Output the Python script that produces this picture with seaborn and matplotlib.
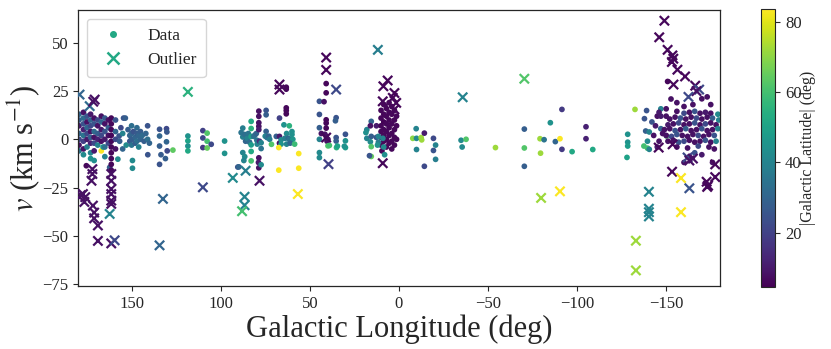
import numpy as np
import pandas as pd
import matplotlib
matplotlib.use("Agg")
import matplotlib.pyplot as plt
from matplotlib.colors import Normalize
from matplotlib.cm import ScalarMappable
from matplotlib.lines import Line2D
import seaborn as sns

# ---------------- data: (longitude deg, velocity km/s, |latitude| deg) ----------------
dots_anticenter_west = [
    (179.5, 13, 30), (179.5, 10, 28), (179.5, 7, 10), (179.5, 3, 30), (179.5, 0, 22), (179.5, -3, 8), (179.5, -6, 35),
    (177, 14, 8), (177, 11, 32), (177, 8, 25), (177, 5, 12), (177, 2, 35), (177, -1, 20), (177, -5, 8), (177, -8, 42),
    (175, 12, 25), (175, 9, 8), (175, 6, 30), (175, 3, 22), (175, 0, 10), (175, -4, 38), (175.4, -13.7, 6),
    (173, 13, 10), (173, 10, 30), (173, 7, 22), (173, 4, 8), (173, 1, 28), (173, -2, 12), (173, -7, 40), (173, -10, 45),
    (171, 11, 8), (171, 8, 25), (171, 4, 32), (171, 1, 8), (171, -2, 22), (171, -6, 10), (171, -11, 44),
    (169, 10, 22), (169, 7, 8), (169, 3, 28), (169, 0, 12), (169, -3, 40), (167, -6, 83),
    (167, 12, 8), (167, 9, 30), (167, 5, 10), (167, 2, 22), (167, -1, 8), (166, -4, 45),
    (165, 11, 26), (165, 8, 8), (165, 4, 25), (165, 0, 10), (165, -4, 33), (165, -9, 40),
    (163, 10, 8), (163, 6, 28), (163, 2, 8), (163, -2, 22), (162.3, -14.6, 28),
    (161.4, 11, 6), (161.4, 8, 6), (161.4, 5, 6), (161.4, 2, 6), (161.4, -1, 6), (161.4, -4, 6),
    (161.4, -7, 6), (161.4, -10, 6), (161.4, -13, 6), (161.4, -16, 7),
    (159, 10, 25), (159, 4, 30), (159, 0, 22), (159, -5, 8), (157.7, -10.3, 42), (157, 1.7, 25),
    (156.7, -1, 28), (154.5, 11, 25), (153.5, 11, 28), (156, 6, 22), (155, 3, 40), (155, -5, 30), (153, -3, 42),
]

dots_outer_west = [
    (152, 5, 28), (151, 2, 30), (151, -1, 25), (150, 7, 33), (150, 3, 30), (150, 0, 28), (150, -3, 35),
    (149.5, -11, 42), (149.5, -15, 42), (149, 4, 25), (148, 1, 30), (148, -2, 28), (147, 6, 32), (147, 3, 27),
    (147, -1, 33), (146, 2, 30), (146, -4, 40), (145, 4, 28), (145, 0, 30), (144, 2, 32), (143, -1, 28),
    (142, 3, 30), (141, 0, 33), (140.9, -8, 25), (140, -2, 30), (141, 7, 25),
    (134.3, 5.2, 25), (134.3, 1.7, 30), (134.3, -3.5, 28), (134.3, -13, 25), (133.5, -8, 27),
    (130.4, 5.5, 22), (130.2, 3.8, 26), (130.4, -1.3, 30), (130, -6, 22), (131, -10, 28), (126.8, -5.6, 64),
    (118.4, 1.7, 45), (118.4, -0.8, 50), (118.4, -3.5, 45), (118.4, -6, 52),
    (110, 4.5, 20), (110, 0.7, 22), (110, -4.3, 18),
    (107.6, 3.2, 62), (107.6, -1, 60), (107.6, -4.5, 65), (105.3, -2.6, 22),
    (97.8, -0.9, 45), (97.8, -7.3, 45), (90.4, -14.4, 25),
]

dots_first_quadrant = [
    (87.6, 5.8, 38), (87.6, 1.2, 38), (87.6, -6.9, 40), (86.5, -9, 42), (87, -11, 40), (88.5, 3.5, 35),
    (86.5, 2.5, 33), (86, -1, 30), (85, 0.5, 40), (84.5, 3, 35), (83.8, -1.5, 32), (89.8, -14.3, 30),
    (82.9, 9.3, 52), (82.9, 5.6, 55), (82.9, 1.5, 50), (82.9, -2.9, 48), (82.9, -6.3, 52), (82.9, -11.2, 60),
    (81.5, 1.5, 35), (80.8, 2.2, 33), (80, 3, 30), (79.7, -0.5, 35), (79.5, -2.5, 40),
    (78.6, 14.6, 8), (78.6, 11.9, 8), (78.6, 8.6, 8), (78.6, 6.7, 8), (78.6, 5, 10), (78.2, -1, 15),
    (78.6, -9.6, 8), (78.6, -14.8, 8), (78.8, -12, 10),
    (77.3, -1.8, 40), (77.3, -4.8, 35), (77.3, -13.2, 42),
    (74.5, 15, 25), (74.5, 12.7, 28), (74.5, 4.1, 28),
    (75, 1.6, 40), (74, 0.9, 35), (73, 1.6, 30), (72.5, 0, 38), (71.5, -2.6, 62), (68.8, 1.5, 28),
    (67, 11, 20), (67, 1.5, 10), (67, -2, 8), (66.1, -0.3, 42), (66.1, -2.5, 45), (67.4, -4.3, 83), (67.4, -16, 83),
    (63.2, 27, 6), (63.2, 26, 6), (63.2, 16.3, 6), (63.2, 14.9, 6), (63.2, 13.2, 6),
    (64.5, 7.5, 45), (63, 3, 42), (64, 0.5, 38), (62, 0.5, 30), (63, -2.5, 40), (61.5, 7, 55), (61.5, 0, 35),
    (60, 4, 44), (60, 2.5, 44), (59.5, 0, 46), (61, -2, 30), (58.5, -2.5, 58),
    (56.2, -7.4, 83), (56.2, -15, 83),
    (44.6, 19.7, 25), (44.6, 12.9, 25), (44.6, 6, 28), (44.6, 0, 40), (44.6, -6.9, 42), (44.6, -9.5, 42), (43.5, 3, 8),
    (40.8, 28.9, 6), (40.8, 24.1, 6), (42, 19.5, 8), (40.8, 10.1, 6), (40.8, 8.4, 6), (40.8, 5.8, 6),
    (41.5, 2.6, 8), (40.8, 1.5, 8), (39.8, 0, 8), (40.3, -1, 8), (39.8, -3.4, 62), (39, -3.2, 60),
    (35.2, 11.2, 25), (35.6, 9.6, 28), (35.2, 0.9, 25), (35.2, -0.9, 28), (35, -4.3, 55), (34.5, -3.5, 50),
    (30, 2.6, 25), (30, -0.8, 45), (30, -4.3, 48), (30.6, -3.6, 45),
    (18, 5, 40), (18.5, 3.5, 44), (18, 0.5, 40), (15.5, 9.3, 30), (16, 7, 8), (12.6, 7, 10), (15.5, 1.5, 28),
    (12.6, 1, 25), (16, -1.3, 42), (15.5, -3.8, 62), (15.5, -8.9, 65), (16.5, -8.5, 25),
]

dots_galactic_center = [
    (10, 15, 6), (10, 11, 6), (10, 7, 6), (10, 4, 6), (10, 1, 6), (10, -3, 7),
    (8.5, 18, 6), (8.5, 13, 6), (8.5, 9, 5), (8.5, 5, 6), (8.5, 2, 6), (8.5, -1, 6), (9.5, -6, 6),
    (7, 16, 6), (7, 12, 6), (7, 8, 6), (7, 4, 6), (7, 0, 6), (7, -4, 6),
    (5.5, 19, 6), (5.5, 14, 6), (5.5, 10, 6), (5.5, 6, 6), (5.5, 2, 6), (5.5, -2, 6),
    (4, 17, 6), (4, 13, 6), (4, 8, 6), (4, 3, 6), (4, -1, 6), (4, -5, 6),
    (2.5, 15, 6), (2.5, 10, 6), (2.5, 5, 6), (2.5, 1, 6), (2.5, -3, 6),
    (1.3, 12, 6), (1.3, 7, 6), (1.3, 0, 6),
    (11.5, 1.5, 40), (11.5, -1.5, 38), (9, 0.5, 40), (8.5, -4, 42), (8, -8, 44), (12, -3, 44),
    (-7.8, 0.5, 70), (-9.7, 5.5, 40), (-9.9, 0.5, 42), (-9.9, -5.3, 40), (-12.5, 0.9, 72), (-12.8, -0.3, 72),
    (-14.3, 3.2, 10), (-14.3, -14, 22),
    (-19.4, 0.5, 22), (-20.6, -3, 40), (-19.4, -5.8, 25), (-20.6, -10.4, 38),
    (-34.9, -0.5, 42), (-37.7, 0, 62), (-35.5, -4, 42), (-54.2, -4.3, 72),
    (-70.4, 5.3, 28), (-70.4, -4.5, 62), (-70.4, -14, 28),
    (-79.2, 0.3, 72), (-79.5, -7.2, 72), (-81.5, -0.2, 35), (-85, 8.6, 45), (-87.8, -1.2, 30), (-90.4, 0.3, 83),
    (-91.5, 15.5, 18), (-91.5, -5.2, 18), (-97.2, -6.4, 52), (-105, 6.5, 12), (-105, 0.3, 12), (-108.8, -5.3, 52),
]

dots_anticenter_east = [
    (-128.4, 2.6, 45), (-128.4, -1.5, 45), (-128.4, -3.5, 48), (-128, -9.4, 50), (-132.5, 15.5, 72),
    (-137.8, 10.7, 25), (-139, 14.9, 25), (-138.5, 4.3, 28), (-140.5, 3.8, 40), (-139.5, -1, 42),
    (-139.5, -4.6, 60), (-140.5, -5.2, 40), (-137.5, -3.5, 60),
    (-147, 15.8, 40), (-147, 5.5, 30), (-150.2, 1.7, 62), (-150, 15.8, 8), (-150.8, 30, 6), (-152.7, 20.9, 8),
    (-145, 12, 8), (-147, 12, 10), (-150, 12, 8), (-146, 14, 10),
    (-142, 9, 25), (-144, 7, 10), (-143, 2, 8), (-146, -1, 8), (-148, 3, 8), (-145, -4, 10),
    (-156, 14.5, 8), (-160, 13.5, 22), (-163, 14, 8), (-166, 14.5, 25), (-169, 13.5, 8), (-172, 14, 10),
    (-175, 13.5, 8), (-179, 13, 42),
    (-152, 10.5, 8), (-155, 11.5, 8), (-158, 11, 25), (-161, 10.5, 8), (-164, 11.5, 8), (-167, 11, 22),
    (-170, 10.5, 8), (-173, 11.5, 8), (-176, 11, 28), (-179.5, 10, 40),
    (-151, 7.5, 10), (-154, 8, 8), (-157, 8.5, 22), (-160, 7.5, 8), (-163, 8, 8), (-166, 8.5, 25),
    (-169, 7.5, 8), (-172, 8, 22), (-175, 8.5, 8), (-178, 7.5, 8),
    (-149, 5, 8), (-152, 5.5, 8), (-155, 4.5, 25), (-158, 5, 8), (-161, 5.5, 28), (-164, 4.5, 8),
    (-167, 5, 8), (-170, 5.5, 25), (-173, 4.5, 8), (-176, 5, 8), (-179, 5.5, 40),
    (-150, 2, 8), (-153, 1.5, 22), (-156, 2.5, 25), (-159, 2, 8), (-162, 1.5, 8), (-165, 2.5, 8),
    (-168, 2, 22), (-171, 1.5, 8), (-174, 2.5, 8), (-177, 2, 25),
    (-151, -1, 8), (-154, -0.5, 8), (-157, -1.5, 25), (-160, -1, 22), (-163, -0.5, 8), (-166, -1.5, 8),
    (-169, -1, 8), (-172, -0.5, 25), (-175, -1.5, 8), (-178, -1, 40),
    (-156, -4, 8), (-162, -4.5, 8), (-168, -3.5, 22), (-174, -4, 8), (-177, -5, 8),
    (-163, -9, 8), (-170, -8, 10), (-176, -12, 8), (-160, -12, 8), (-166, -7, 25),
    (-156, 19, 8), (-160, 17, 8), (-165, 18, 8), (-170, 21, 8), (-173, 22, 8), (-175, 18, 8),
]

outliers_west = [
    (179.2, 23.2, 30), (170.7, 20.6, 8), (173.5, 17.2, 32), (171.5, 19.5, 8),
    (177.3, -28.4, 8), (176, -30, 8), (176.5, -32.5, 8), (178.5, -29, 8), (171.7, -34.4, 8), (171, -38, 8),
    (171, -41, 8), (168.9, -44.7, 8), (168.9, -52.7, 8), (161.4, -54, 8), (159.5, -52.4, 22), (162.3, -38.7, 40),
    (161.4, -18, 8), (161.4, -21.5, 8), (161.4, -25.8, 8), (161.4, -28.4, 8), (161.4, -31.8, 8), (161.4, -33.5, 8),
    (172, -15.5, 8), (172, -18, 8), (172.5, -21.5, 8),
    (118.4, 24.6, 55), (132.4, -30.9, 30), (134.3, -55, 30), (110, -24.9, 22), (93.2, -20, 42),
    (86, -16.3, 38), (86.6, -29.8, 40), (86.6, -34.2, 40), (88, -37.3, 60), (78.2, -21.5, 8),
    (67, 28.4, 6), (67, 25.8, 6), (56.7, -28.4, 83),
    (40.8, 42.4, 6), (40.8, 36, 6), (35.2, 25.8, 22), (40.8, 0.9, 6), (39.5, -12.9, 20),
    (11.8, 46.4, 38), (6.3, 30.5, 6), (8.7, 27.5, 6), (2.5, 24, 6), (9.05, 19.7, 6), (1.5, 18.9, 6),
    (2.5, 15.5, 6), (3.4, 21.5, 6), (9.05, -12.4, 6),
]

outliers_east = [
    (-35.8, 21.8, 40), (-70.4, 31.4, 62), (-79.8, -30.4, 72), (-90.4, -27, 83),
    (-149, 61.5, 6), (-146.1, 52.9, 6), (-150.8, 46.4, 6), (-153.5, 43.5, 6), (-154, 41.8, 6), (-153.2, 40.1, 6),
    (-156.3, 36.1, 6), (-160.6, 32.6, 6), (-166.3, 27.8, 6), (-168.5, 25.8, 22), (-167, 25, 8),
    (-154.1, 28.4, 6), (-162.5, 22, 22),
    (-145.8, -4.3, 6), (-153.6, -2.6, 6), (-162, -9.4, 22), (-165, -10, 8), (-163, -11, 8), (-177.5, -13, 6),
    (-153.3, -16.8, 6), (-158.3, -20.1, 83), (-163, -25.4, 25), (-172.7, -22, 6), (-173.5, -24, 6),
    (-173, -24.7, 6), (-177.5, -19.6, 6),
    (-140.3, -27.2, 40), (-140.3, -36, 40), (-140.3, -37.8, 40), (-140.3, -40, 40), (-158.3, -37.8, 83),
    (-133, -52.6, 72), (-133, -68, 72),
]

lon_ticks = [150, 100, 50, 0, -50, -100, -150]
v_ticks = [50, 25, 0, -25, -50, -75]
cbar_ticks = [20, 40, 60, 80]
b_min, b_max = 4.6, 83.6

# ---------------- build tables ----------------
dots = pd.DataFrame(dots_anticenter_west + dots_outer_west + dots_first_quadrant
                    + dots_galactic_center + dots_anticenter_east, columns=["l", "v", "b"])
outs = pd.DataFrame(outliers_west + outliers_east, columns=["l", "v", "b"])

# ---------------- style ----------------
sns.set_style("ticks")
plt.rcParams["font.family"] = ["Liberation Serif", "DejaVu Serif"]
plt.rcParams["mathtext.fontset"] = "stix"

fig = plt.figure(figsize=(8.31, 3.49), dpi=100)
ax = fig.add_axes([0.094, 0.181, 0.772, 0.790])
cax = fig.add_axes([0.916, 0.178, 0.017, 0.796])

norm = Normalize(vmin=b_min, vmax=b_max)

sns.scatterplot(data=dots, x="l", y="v", hue="b", palette="viridis", hue_norm=norm,
                s=17, linewidth=0, legend=False, ax=ax, zorder=2)
sns.scatterplot(data=outs, x="l", y="v", hue="b", palette="viridis", hue_norm=norm,
                marker="x", s=45, linewidth=1.6, legend=False, ax=ax, zorder=3)

ax.set_xlim(180, -180)
ax.set_ylim(-76, 67)
ax.set_xticks(lon_ticks)
ax.set_yticks(v_ticks)
ax.tick_params(labelsize=12, length=3.5, width=0.8, direction="out")
for sp in ax.spines.values():
    sp.set_visible(True)
    sp.set_linewidth(0.9)
ax.set_xlabel("Galactic Longitude (deg)", fontsize=22, labelpad=2)
ax.set_ylabel(r"$v$ (km s$^{-1}$)", fontsize=22, labelpad=0)

leg_color = "#22a884"
handles = [
    Line2D([], [], marker="o", linestyle="none", color=leg_color, markersize=4),
    Line2D([], [], marker="x", linestyle="none", color=leg_color, markersize=8, markeredgewidth=1.8),
]
ax.legend(handles, ["Data", "Outlier"], loc="upper left", fontsize=12.5, frameon=True,
          borderpad=0.5, handletextpad=1.0, labelspacing=0.5, borderaxespad=0.5)

sm = ScalarMappable(norm=norm, cmap="viridis")
cb = fig.colorbar(sm, cax=cax)
cb.set_ticks(cbar_ticks)
cb.ax.tick_params(labelsize=12, length=3.5, width=0.8)
cb.set_label("|Galactic Latitude| (deg)", fontsize=11.5, labelpad=-1)
cb.outline.set_linewidth(0.8)

fig.savefig("out.png", dpi=100)
